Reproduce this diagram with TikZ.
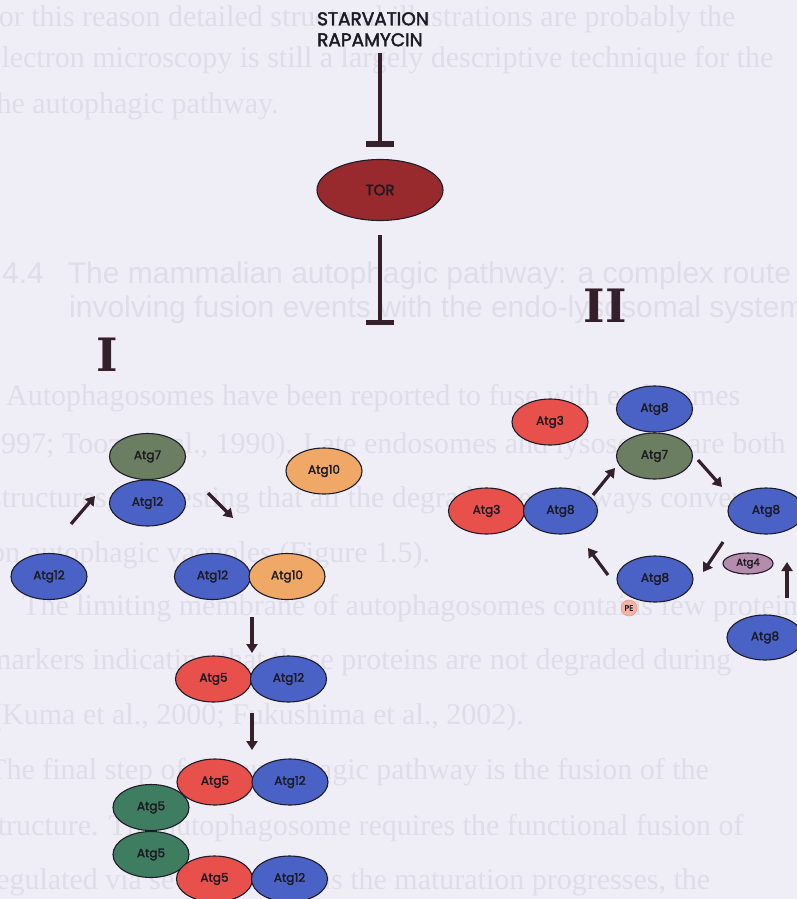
\documentclass[tikz,border=0pt]{standalone}
\usepackage{fontspec}
\usetikzlibrary{shapes.geometric,arrows.meta}
\newfontfamily\comic[FakeBold=2.2]{Poppins}
\newfontfamily\ghostfont{Liberation Serif}
\newfontfamily\ghostsans{Liberation Sans}
\newfontfamily\romfont{DejaVu Serif}
\definecolor{bgc}{HTML}{EFEEF6}
\definecolor{ghostc}{HTML}{DFDEE8}
\definecolor{edge}{HTML}{1E1C2A}
\definecolor{ink}{HTML}{1C1A22}
\definecolor{arrc}{HTML}{33202A}
\definecolor{cblue}{HTML}{4A62C6}
\definecolor{cred}{HTML}{E8504C}
\definecolor{corange}{HTML}{F0A866}
\definecolor{cgrey}{HTML}{6C7E61}
\definecolor{cgreen}{HTML}{3F7D60}
\definecolor{ctor}{HTML}{982A2D}
\definecolor{cmauve}{HTML}{B68CAE}
\definecolor{cpe}{HTML}{F3B3A6}
\begin{document}
\begin{tikzpicture}[x=1pt,y=-1pt,
  prot/.style={ellipse,draw=edge,line width=1.1pt,inner sep=0pt,
    minimum width=76pt,minimum height=46pt,text=ink,
    font=\comic\fontsize{12}{13}\selectfont},
  pblue/.style={prot,fill=cblue},
  pred/.style={prot,fill=cred},
  porange/.style={prot,fill=corange},
  pgrey/.style={prot,fill=cgrey},
  pgreen/.style={prot,fill=cgreen},
  arr/.style={draw=arrc,line width=3.2pt,-{Triangle[length=9pt,width=11pt]}},
  inh/.style={draw=arrc,line width=4pt,-{Bar[width=28pt,line width=5.5pt]}},
  ghost/.style={text=ghostc,inner sep=0pt,anchor=base west,
    font=\ghostfont\fontsize{30}{30}\selectfont},
  ghosthead/.style={ghost,font=\ghostsans\fontsize{30}{30}\selectfont},
  roman/.style={text=arrc,inner sep=0pt,font=\romfont\bfseries\fontsize{46}{46}\selectfont},
]
\useasboundingbox (0,0) rectangle (797,899);
\clip (0,0) rectangle (797,899);
\fill[bgc] (0,0) rectangle (797,899);

% faint text of the page underneath
\node[ghost] (g1) at (-18,27) {For this reason detailed structural illustrations are probably the};
\node[ghost] (g2) at (-12,67) {electron microscopy is still a largely descriptive technique for the};
\node[ghost] (g3) at (-12,113) {the autophagic pathway.};
\node[ghosthead] (g4) at (2,283) {4.4\hspace{24pt}The mammalian autophagic pathway: a complex route};
\node[ghosthead] (g5) at (69,317) {involving fusion events with the endo-lysosomal system};
\node[ghost] (g6) at (6,405) {Autophagosomes have been reported to fuse with endosomes};
\node[ghost] (g7) at (-14,453) {1997; Tooze et al., 1990). Late endosomes and lysosomes are both};
\node[ghost] (g8) at (-10,507) {structures, suggesting that all the degradative pathways converge};
\node[ghost] (g9) at (-10,562) {on autophagic vacuoles (Figure 1.5).};
\node[ghost] (g10) at (22,615) {The limiting membrane of autophagosomes contains few proteins};
\node[ghost] (g11) at (-12,669) {markers indicating that these proteins are not degraded during};
\node[ghost] (g12) at (-8,724) {(Kuma et al., 2000; Fukushima et al., 2002).};
\node[ghost] (g13) at (-12,779) {The final step of the autophagic pathway is the fusion of the};
\node[ghost] (g14) at (-14,835) {structure. The autophagosome requires the functional fusion of};
\node[ghost] (g15) at (-14,889) {regulated via several steps; as the maturation progresses, the};

% TOR signalling
\node[anchor=north west,align=left,inner sep=0pt,text=ink,
  font=\comic\fontsize{18.5}{21}\selectfont] (stv) at (317,12) {STARVATION\\RAPAMYCIN};
\node[ellipse,draw=edge,line width=1.1pt,fill=ctor,inner sep=0pt,
  minimum width=126pt,minimum height=61pt,text=ink,
  font=\comic\fontsize{15}{17}\selectfont] (tor) at (380,190) {TOR};
\coordinate (torout) at (380,325);
\draw[inh,shorten <=6pt,shorten >=12pt] (tor.north |- stv.south) -- (tor.north);
\draw[inh,shorten <=14pt] (tor.south) -- (torout);

\node[roman] (one) at (107,355) {I};
\node[roman] (two) at (605,306) {II};

% pathway I: Atg12 conjugation
\node[pblue] (l12) at (49,576.5) {Atg12};
\node[pgrey] (a7) at (147.5,456.5) {Atg7};
\node[pblue] (c12) at (147.5,503) {Atg12};
\node[porange] (a10) at (324,471) {Atg10};
\node[pblue] (m12) at (212.5,576.5) {Atg12};
\node[porange] (m10) at (287,576.5) {Atg10};
\node[pred] (f5a) at (213.5,679) {Atg5};
\node[pblue] (f12a) at (288.5,679) {Atg12};
\node[pgreen] (g5a) at (151,807.5) {Atg5};
\node[pgreen] (g5b) at (151,854.5) {Atg5};
\node[pred] (f5b) at (215,782) {Atg5};
\node[pblue] (f12b) at (290,782) {Atg12};
\node[pred] (f5c) at (214.5,879) {Atg5};
\node[pblue] (f12c) at (289.5,879) {Atg12};

\coordinate (p1s) at (71,524);   \coordinate (p1e) at (95,496);
\coordinate (p2s) at (208,493);  \coordinate (p2e) at (233,518);
\coordinate (p3s) at (252,617);  \coordinate (p3e) at (252,653);
\coordinate (p4s) at (252,713);  \coordinate (p4e) at (252,750);
\draw[arr] (p1s) -- (p1e);
\draw[arr] (p2s) -- (p2e);
\draw[arr] (p3s) -- (p3e);
\draw[arr] (p4s) -- (p4e);

% pathway II: Atg8 lipidation cycle
\node[pred] (r3t) at (550,422) {Atg3};
\node[pblue] (r8t) at (654.5,409) {Atg8};
\node[pgrey] (r7) at (654.5,456) {Atg7};
\node[pred] (r3l) at (486.5,511) {Atg3};
\node[pblue,minimum width=74pt] (r8l) at (560.5,511) {Atg8};
\node[pblue] (r8r) at (766,511) {Atg8};
\node[prot,fill=cmauve,minimum width=50pt,minimum height=21pt,
  font=\comic\fontsize{10}{11}\selectfont] (r4) at (748,563.5) {Atg4};
\node[pblue] (r8b) at (655,579) {Atg8};
\node[circle,fill=cpe,draw=cpe!80!red,line width=0.5pt,minimum size=16pt,inner sep=0pt,
  text=ink,font=\comic\fontsize{8}{9}\selectfont] (pe) at (629,608) {PE};
\node[pblue,minimum height=45pt] (r8n) at (765,637.5) {Atg8};

\coordinate (q1s) at (593,495);  \coordinate (q1e) at (615,468);
\coordinate (q2s) at (698,460);  \coordinate (q2e) at (722,487);
\coordinate (q3s) at (723,542);  \coordinate (q3e) at (703,572);
\coordinate (q4s) at (608,575);  \coordinate (q4e) at (588,548);
\coordinate (q5s) at (787,598);  \coordinate (q5e) at (787,562);
\draw[arr] (q1s) -- (q1e);
\draw[arr] (q2s) -- (q2e);
\draw[arr] (q3s) -- (q3e);
\draw[arr] (q4s) -- (q4e);
\draw[arr] (q5s) -- (q5e);
\end{tikzpicture}
\end{document}
